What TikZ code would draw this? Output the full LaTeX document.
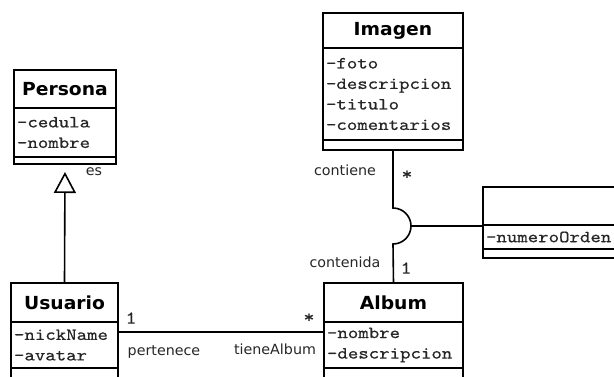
\documentclass[tikz,border=0pt]{standalone}
\usepackage{fontspec}
\usetikzlibrary{arrows.meta}
\newfontfamily\titlef[FakeStretch=1.04]{DejaVu Sans}
\newfontfamily\attrf[FakeStretch=1.17, FakeBold=0.6]{lmmono10-regular.otf}
\newfontfamily\labf[FakeStretch=1.02]{DejaVu Sans}
\tikzset{
  comp/.style={draw, line width=1.6pt, anchor=north west, inner xsep=3pt, inner ysep=0pt, outer sep=0pt},
  ttl/.style={comp, font=\titlef\bfseries\fontsize{18}{20}\selectfont, align=center},
  att/.style={comp, font=\attrf\fontsize{17}{20.5}\selectfont, align=left, text=black!85},
  lab/.style={font=\labf\fontsize{14}{16}\selectfont, inner sep=0pt, text=black!85},
  mult/.style={font=\attrf\fontsize{18}{18}\selectfont, inner sep=0pt, text=black!85},
  conn/.style={line width=1.6pt},
}
\begin{document}
\begin{tikzpicture}[x=1pt,y=-1pt]
\useasboundingbox (0,0) rectangle (614,376);
\clip (0,0) rectangle (614,376);
% Persona
\node[ttl, minimum width=102pt, minimum height=38pt, text width=96pt] (per-t) at (14,70) {Persona};
\node[att, minimum width=102pt, minimum height=49pt, text width=96pt] (per-a) at (14,108) {-cedula\\-nombre};
\node[att, minimum width=102pt, minimum height=7pt, text width=96pt] (per-o) at (14,157) {};
% Imagen
\node[ttl, minimum width=140pt, minimum height=35pt, text width=134pt] (img-t) at (323,13) {Imagen};
\node[att, minimum width=140pt, minimum height=92pt, text width=134pt] (img-a) at (323,48) {-foto\\-descripcion\\-titulo\\-comentarios};
\node[att, minimum width=140pt, minimum height=10pt, text width=134pt] (img-o) at (323,140) {};
% Usuario
\node[ttl, minimum width=107pt, minimum height=39pt, text width=101pt] (usu-t) at (11,283) {Usuario};
\node[att, minimum width=107pt, minimum height=46pt, text width=101pt] (usu-a) at (11,322) {-nickName\\-avatar};
\node[att, minimum width=107pt, minimum height=14pt, text width=101pt] (usu-o) at (11,368) {};
% Album
\node[ttl, minimum width=139pt, minimum height=39pt, text width=133pt] (alb-t) at (324,283) {Album};
\node[att, minimum width=139pt, minimum height=46pt, text width=133pt] (alb-a) at (324,322) {-nombre\\-descripcion};
\node[att, minimum width=139pt, minimum height=14pt, text width=133pt] (alb-o) at (324,368) {};
% Association class
\node[ttl, minimum width=140pt, minimum height=38pt, text width=134pt] (ac-t) at (483,187) {};
\node[att, minimum width=140pt, minimum height=24pt, text width=134pt] (ac-a) at (483,225) {-numeroOrden};
\node[att, minimum width=140pt, minimum height=9pt, text width=134pt] (ac-o) at (483,249) {};
% Generalization
\draw[conn, -{Triangle[open, length=21pt, width=22pt, line width=1.6pt]}, shorten >=8pt] (usu-t.north) -- (per-o.south);
\node[lab] (es) at (94,172) {es};
% Usuario - Album
\draw[conn] ([yshift=-10pt]usu-a.north east) -- ([yshift=-10pt]alb-a.north west);
\node[mult] (m1) at (131,318) {1};
\node[mult] (m2) at (309,318) {*};
\node[lab] (pert) at (164,352) {pertenece};
\node[lab] (tiene) at (275,349) {tieneAlbum};
% Imagen - Album with hop
\coordinate (hopT) at (393,208);
\coordinate (hopR) at (411,226);
\draw[conn] (img-o.south) -- (hopT) arc[start angle=90, end angle=-90, radius=18pt] -- (alb-t.north);
\draw[conn] (hopR) -- ([yshift=-1pt]ac-a.north west);
\node[lab] (cont) at (345,170) {contiene};
\node[mult] (m3) at (407,175) {*};
\node[lab] (contd) at (345,262) {contenida};
\node[mult] (m4) at (406,268) {1};
\end{tikzpicture}
\end{document}
